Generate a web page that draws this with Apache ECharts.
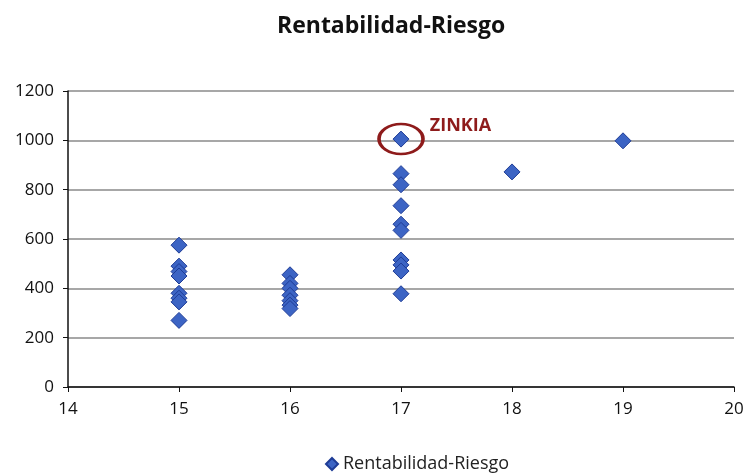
<!DOCTYPE html>
<html><head><meta charset="utf-8">
<script src="https://cdn.jsdelivr.net/npm/echarts@6/dist/echarts.min.js"></script>
<style>html,body{margin:0;padding:0;background:#fff}#c{width:747px;height:473px}</style>
</head><body><div id="c"></div>
<script>
const xValues = [15,15,15,15,15,15,15,15, 16,16,16,16,16,16,16, 17,17,17,17,17,17,17,17,17,17, 18, 19];
const yValues = [575,490,468,450,380,360,345,270, 455,420,400,372,350,332,318, 1005,865,820,735,660,635,515,495,470,378, 872,998];
const xTicks = [14,20,1];
const yTicks = [0,1200,200];
const seriesName = 'Rentabilidad-Riesgo';
const highlight = {name:'ZINKIA', x:17, y:1005};

const data = xValues.map((x,i)=>[x,yValues[i]]);
const chart = echarts.init(document.getElementById('c'));
const font = '"Open Sans", sans-serif';
chart.setOption({
  animation:false,
  title:{text:'Rentabilidad-Riesgo',left:272,top:10,textStyle:{fontFamily:font,fontSize:23,fontWeight:'bold',color:'#111'}},
  legend:{bottom:-5,left:320,icon:'diamond',itemWidth:12,itemHeight:12,itemGap:5,
    textStyle:{fontFamily:font,fontSize:18,color:'#222'},data:[seriesName]},
  grid:{left:68,right:13,top:91,bottom:86},
  xAxis:{type:'value',min:xTicks[0],max:xTicks[1],interval:xTicks[2],
    axisLine:{lineStyle:{color:'#111',width:1.5}},axisTick:{inside:false,length:5,lineStyle:{color:'#111'}},
    splitLine:{show:false},axisLabel:{fontFamily:font,fontSize:17,color:'#111',margin:14,formatter:v=>String(v)}},
  yAxis:{type:'value',min:yTicks[0],max:yTicks[1],interval:yTicks[2],
    axisLine:{show:true,lineStyle:{color:'#111',width:1.5}},axisTick:{show:true,length:5,lineStyle:{color:'#111'}},
    splitLine:{lineStyle:{color:'#8a8a8a',width:1.5}},axisLabel:{fontFamily:font,fontSize:17,color:'#111',margin:14,formatter:v=>String(v)}},
  series:[{name:seriesName,type:'scatter',symbol:'diamond',symbolSize:16,data:data,
    itemStyle:{color:'#3C64C4',borderColor:'#1E3C96',borderWidth:1,opacity:1},
    markPoint:{symbol:'circle',symbolSize:[44,30],silent:true,
      itemStyle:{color:'rgba(0,0,0,0)',borderColor:'#8E1B1B',borderWidth:3},
      label:{show:true,formatter:highlight.name,position:'right',offset:[0,-13],
        fontFamily:font,fontSize:18,fontWeight:'bold',color:'#8E1B1B'},
      data:[{coord:[highlight.x,highlight.y]}]}}]
});
</script></body></html>
